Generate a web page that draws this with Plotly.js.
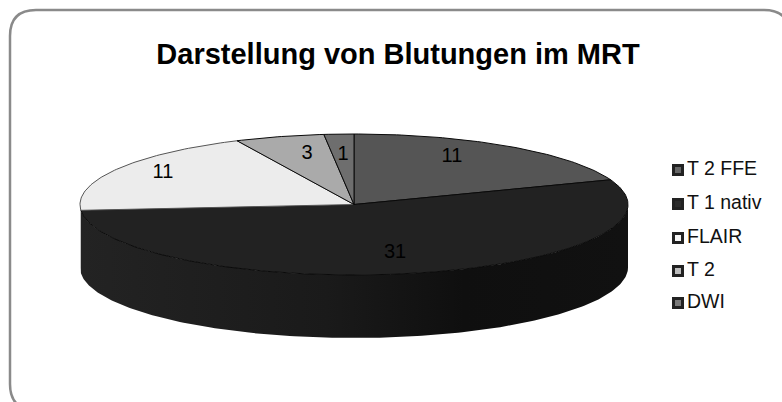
<!DOCTYPE html>
<html><head><meta charset="utf-8">
<script src="https://cdn.plot.ly/plotly-3.0.1.min.js"></script>
<style>html,body{margin:0;padding:0;background:#fff;overflow:hidden}#c{width:782px;height:402px}</style>
</head><body><div id="c"></div>
<script>
const titleText = 'Darstellung von Blutungen im MRT';
const categories = ['T 2 FFE', 'T 1 nativ', 'FLAIR', 'T 2', 'DWI'];
const values = [11, 31, 11, 3, 1];
const topColors = ['#555555', '#222222', '#ececec', '#aaaaaa', '#6e6e6e'];
const swatchColors = ['#666666', '#2c2c2c', '#f6f6f6', '#bdbdbd', '#7a7a7a'];

// Geometry of the tilted disc, in the pixel-like axis units
const cx = 354, cy = 204.5, rx = 274, ry = 70.5, depth = 63;
const labelAnchors = [[452, 157], [395, 253], [163, 173], [307, 154], [343, 155]];
const legendX = 678, legendTextX = 687, legendYs = [170, 204, 238, 271, 303];

const total = values.reduce((a, b) => a + b, 0);
const px = d => cx + rx * Math.sin(d * Math.PI / 180);
const py = (d, dz = 0) => cy - ry * Math.cos(d * Math.PI / 180) + dz;

function arc(a, b, dz = 0) {
  const n = Math.max(2, Math.ceil(Math.abs(b - a)));
  const xs = [], ys = [];
  for (let i = 0; i <= n; i++) {
    const d = a + (b - a) * i / n;
    xs.push(px(d)); ys.push(py(d, dz));
  }
  return [xs, ys];
}

const traces = [];
let acc = 0;
const spans = values.map(v => { const s = [acc / total * 360, (acc + v) / total * 360]; acc += v; return s; });

// Side wall: only the front half of the disc is visible
spans.forEach((s, i) => {
  const a = Math.max(s[0], 90), b = Math.min(s[1], 270);
  if (b <= a) return;
  const [tx, ty] = arc(a, b);
  const [bx, by] = arc(b, a, depth);
  const t = {
    x: tx.concat(bx, [tx[0]]), y: ty.concat(by, [ty[0]]),
    mode: 'lines', fill: 'toself', line: {width: 0, color: 'rgba(0,0,0,0)'},
    showlegend: false, hoverinfo: 'skip', name: categories[i] + ' side'
  };
  if (i === 1) {
    t.fillgradient = {type: 'horizontal', colorscale: [[0, '#232323'], [0.45, '#1a1a1a'], [0.7, '#0f0f0f'], [1, '#111111']]};
  } else {
    t.fillcolor = '#c4c4c4';
  }
  traces.push(t);
});

// Top face
spans.forEach((s, i) => {
  const [ax, ay] = arc(s[0], s[1]);
  traces.push({
    x: [cx].concat(ax, [cx]), y: [cy].concat(ay, [cy]),
    mode: 'lines', fill: 'toself', fillcolor: topColors[i],
    line: {width: 1, color: i === 2 ? '#555555' : '#0a0a0a'},
    name: categories[i], showlegend: false, hoverinfo: 'skip'
  });
});

// Value labels
traces.push({
  x: labelAnchors.map(p => p[0]), y: labelAnchors.map(p => p[1]),
  text: values.map(String), mode: 'text', textposition: 'middle center',
  textfont: {family: 'Liberation Sans', size: 20, color: '#000'},
  showlegend: false, hoverinfo: 'skip'
});

// Legend column
traces.push({
  x: categories.map(() => legendX), y: legendYs,
  mode: 'markers', name: 'legend swatches',
  marker: {symbol: 'square', size: 9, color: swatchColors, line: {width: 3, color: '#222222'}},
  showlegend: false, hoverinfo: 'skip'
});
traces.push({
  x: categories.map(() => legendTextX), y: legendYs,
  text: categories, mode: 'text', textposition: 'middle right',
  textfont: {family: 'Liberation Sans', size: 19.5, color: '#111'},
  showlegend: false, hoverinfo: 'skip'
});

const layout = {
  width: 782, height: 402, margin: {l: 0, r: 0, t: 0, b: 0},
  paper_bgcolor: '#fff', plot_bgcolor: '#fff', showlegend: false,
  title: {text: titleText, x: 398 / 782, xanchor: 'center', y: 1 - 54 / 402, yanchor: 'middle',
          font: {family: 'Liberation Sans', size: 29, color: '#000', weight: 'bold'}},
  xaxis: {range: [0, 782], visible: false, fixedrange: true},
  yaxis: {range: [402, 0], visible: false, fixedrange: true},
  shapes: [{
    type: 'path', xref: 'x', yref: 'y', layer: 'below',
    path: 'M 10 36 Q 10 10 36 10 L 764 10 Q 790 10 790 36 L 790 384 Q 790 410 764 410 L 36 410 Q 10 410 10 384 Z',
    line: {color: '#8a8a8a', width: 2.5}, fillcolor: 'rgba(0,0,0,0)'
  }]
};
Plotly.newPlot('c', traces, layout, {displayModeBar: false, staticPlot: true});
</script></body></html>
